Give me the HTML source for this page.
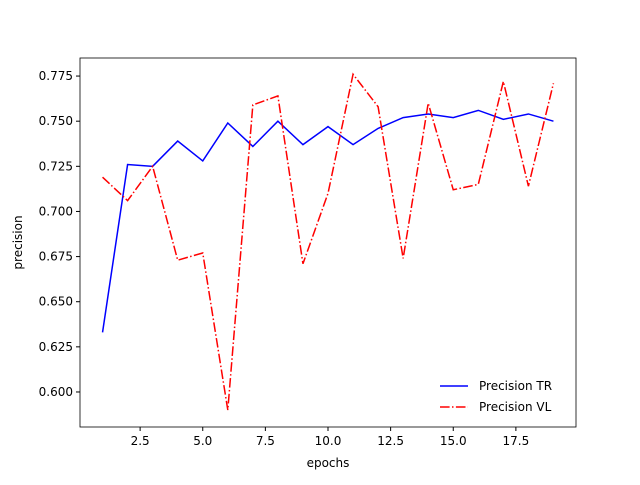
<!DOCTYPE html>
<html><head><meta charset="utf-8"><style>body{margin:0;background:#fff}svg text{font-family:"DejaVu Sans","Liberation Sans",sans-serif;font-size:12px;fill:#000}</style></head>
<body>
<svg id="chart" width="640" height="480" xmlns="http://www.w3.org/2000/svg"></svg>
<script>
const epochs=[1,2,3,4,5,6,7,8,9,10,11,12,13,14,15,16,17,18,19];
const precisionTR=[0.633,0.726,0.725,0.739,0.728,0.749,0.736,0.750,0.737,0.747,0.737,0.746,0.752,0.754,0.752,0.756,0.751,0.754,0.750];
const precisionVL=[0.719,0.706,0.725,0.673,0.677,0.590,0.759,0.764,0.671,0.710,0.776,0.758,0.674,0.760,0.712,0.715,0.772,0.714,0.771];
const xTicks=[2.5,5.0,7.5,10.0,12.5,15.0,17.5];
const yTicks=[0.600,0.625,0.650,0.675,0.700,0.725,0.750,0.775];
const L=80,R=576,T=58,B=427,x0=0.1,x1=19.9,y0=0.5806,y1=0.785;
const sx=v=>L+(v-x0)/(x1-x0)*(R-L);
const sy=v=>B-(v-y0)/(y1-y0)*(B-T);
const svg=document.getElementById('chart');const NS='http://www.w3.org/2000/svg';
function mk(t,a,txt){const e=document.createElementNS(NS,t);for(const k in a)e.setAttribute(k,a[k]);if(txt!==undefined)e.textContent=txt;svg.appendChild(e);return e;}
xTicks.forEach(v=>{const x=sx(v);
const t=mk('line',{x1:x,x2:x,y1:B,y2:B+4,stroke:'#000'});


const l=mk('text',{x:x,y:B+18,'text-anchor':'middle'},v.toFixed(1));

});
yTicks.forEach(v=>{const y=sy(v);
const t=mk('line',{x1:L-4,x2:L,y1:y,y2:y,stroke:'#000'});


const l=mk('text',{x:L-7,y:y+4,'text-anchor':'end'},v.toFixed(3));

});
function pts(a){return epochs.map((e,i)=>sx(e)+','+sy(a[i])).join(' ');}
const p1=mk('polyline',{points:pts(precisionTR),fill:'none',stroke:'#0000ff','stroke-width':1.5});


const p2=mk('polyline',{points:pts(precisionVL),fill:'none',stroke:'#ff0000','stroke-width':1.5,'stroke-dasharray':'9.6,2.4,1.5,2.4'});


const fr=mk('rect',{x:L,y:T,width:R-L,height:B-T,fill:'none',stroke:'#000','stroke-width':0.8});


const xt=mk('text',{x:(L+R)/2,y:467,'text-anchor':'middle'},'epochs');


const yt=mk('text',{x:22,y:(T+B)/2,'text-anchor':'middle',transform:'rotate(-90 22 '+(T+B)/2+')'},'precision');


const g1=mk('line',{x1:440,x2:468,y1:386,y2:386,stroke:'#0000ff','stroke-width':1.5});


const g1t=mk('text',{x:479,y:390},'Precision TR');


const g2=mk('line',{x1:440,x2:468,y1:407,y2:407,stroke:'#ff0000','stroke-width':1.5,'stroke-dasharray':'9.6,2.4,1.5,2.4'});


const g2t=mk('text',{x:479,y:411},'Precision VL');


</script>
</body></html>
